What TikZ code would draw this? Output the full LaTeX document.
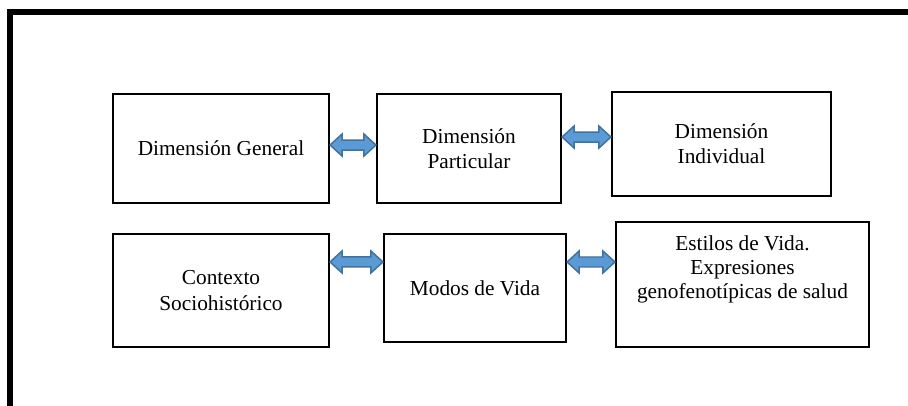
\documentclass[tikz,border=0pt]{standalone}
\usepackage{fontspec}
\setmainfont{Liberation Serif}
\usetikzlibrary{calc}

\definecolor{flechaazul}{RGB}{91,155,213}
\definecolor{bordeazul}{RGB}{65,113,156}

\tikzset{every picture/.style={line width=0.75pt}}
\tikzset{
  caja/.style={draw, line width=1.6pt, rectangle, align=center, inner sep=2pt,
    font=\fontsize{16}{19}\selectfont},
  texto/.style={align=center, inner sep=0.75pt, font=\fontsize{16}{18}\selectfont},
  flechadoble/.style={fill=flechaazul, draw=bordeazul, line width=1.1pt, line join=miter}
}

% block double arrow between two named points (same height as the first one)
\newcommand{\flechabloque}[2]{%
  \draw[flechadoble] let \p1=#1, \p2=#2 in
    (\x1,\y1) -- (\x1+9pt,\y1+8.25pt) -- (\x1+9pt,\y1+3.75pt) -- (\x2-9pt,\y1+3.75pt)
    -- (\x2-9pt,\y1+8.25pt) -- (\x2,\y1) -- (\x2-9pt,\y1-8.25pt) -- (\x2-9pt,\y1-3.75pt)
    -- (\x1+9pt,\y1-3.75pt) -- (\x1+9pt,\y1-8.25pt) -- cycle ;}

\begin{document}
\begin{tikzpicture}[x=0.75pt,y=0.75pt,yscale=-1,xscale=1]
\useasboundingbox (0,0) rectangle (908,406);

%Straight Lines [id:marco] 
\draw [line width=4.5pt]  (9.7,406) -- (9.7,12.3) -- (908,12.3) ;

%Shape: Rectangle [id:general] 
\node [caja, minimum width=162pt, minimum height=81.75pt] (general) at (221,148.5) {Dimensión General};
%Shape: Rectangle [id:particular] 
\node [caja, minimum width=138pt, minimum height=81.75pt] (particular) at (469,148.5) {Dimensión\\Particular};
%Shape: Rectangle [id:individual] 
\node [caja, minimum width=164.25pt, minimum height=78pt] (individual) at (721.5,144) {Dimensión\\Individual};
%Shape: Rectangle [id:contexto] 
\node [caja, minimum width=162pt, minimum height=84.75pt] (contexto) at (221,290.5) {Contexto\\Sociohistórico};
%Shape: Rectangle [id:modos] 
\node [caja, minimum width=136.5pt, minimum height=81pt] (modos) at (475,288) {Modos de Vida};
%Shape: Rectangle [id:estilos] 
\node [caja, minimum width=189.75pt, minimum height=93.75pt] (estilos) at (742.5,284.5) {};

% Text Node
\node [texto] (estilostxt) at (742.5,269) {Estilos de Vida.\\Expresiones\\genofenotípicas de salud};

%Shape: Double Arrow [id:fg1] 
\flechabloque{([yshift=-2.6pt]general.east)}{(particular.west)}
%Shape: Double Arrow [id:fg2] 
\flechabloque{([yshift=-8.6pt]particular.east)}{(individual.west)}
%Shape: Double Arrow [id:fg3] 
\flechabloque{([yshift=-21.4pt]contexto.east)}{(modos.west)}
%Shape: Double Arrow [id:fg4] 
\flechabloque{([yshift=-19.5pt]modos.east)}{(estilos.west)}

\end{tikzpicture}
\end{document}
